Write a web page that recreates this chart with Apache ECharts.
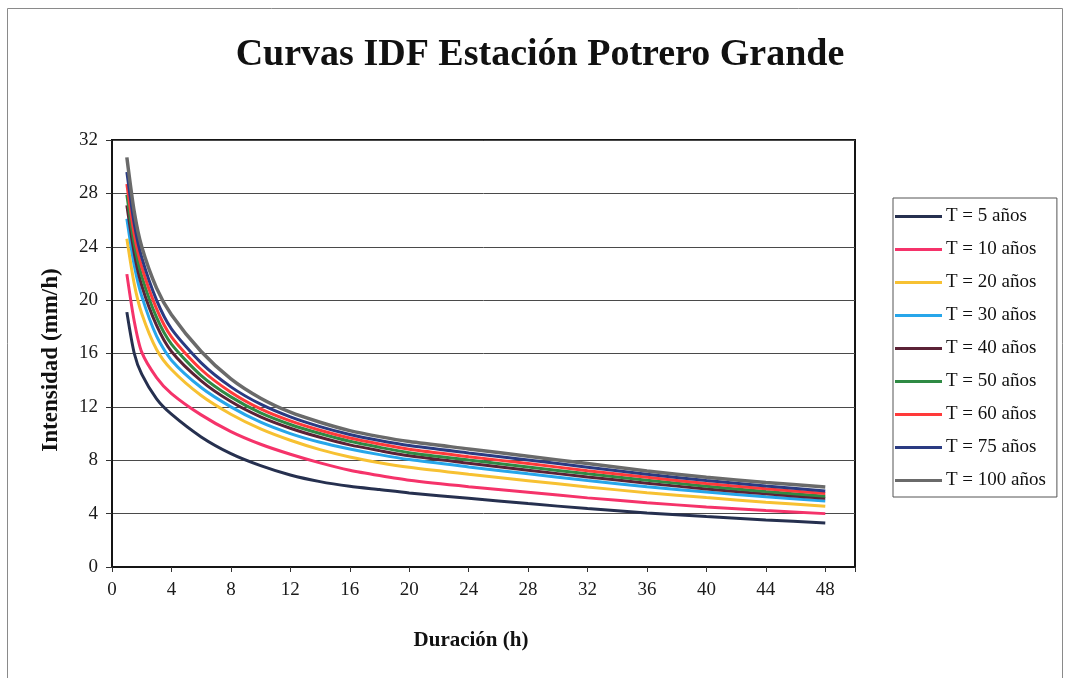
<!DOCTYPE html>
<html>
<head>
<meta charset="utf-8">
<title>Curvas IDF Estación Potrero Grande</title>
<script src="https://cdn.jsdelivr.net/npm/echarts@6/dist/echarts.min.js"></script>
<style>
  html, body { margin: 0; padding: 0; background: #ffffff; }
  #chart { width: 1066px; height: 678px; }
</style>
</head>
<body>
<div id="chart"></div>
<script>
// Duration of the storm (hours)
const durations = [1, 1.5, 2, 3, 4, 6, 8, 10, 12, 14, 16, 18, 20, 24, 28, 32, 36, 40, 44, 48];

// Rainfall intensity (mm/h) for each return period
const t5   = [19.1, 16.0, 14.45, 12.6, 11.45, 9.75, 8.5, 7.6, 6.9, 6.4, 6.05, 5.8, 5.55, 5.15, 4.75, 4.38, 4.05, 3.78, 3.53, 3.3];
const t10  = [21.95, 18.4, 16.1, 14.2, 13.0, 11.4, 10.15, 9.2, 8.45, 7.8, 7.25, 6.85, 6.5, 6.02, 5.6, 5.18, 4.82, 4.5, 4.23, 4.0];
const t20  = [24.6, 21.2, 19.0, 16.3, 14.8, 12.85, 11.45, 10.35, 9.5, 8.8, 8.25, 7.82, 7.47, 6.95, 6.47, 6.0, 5.57, 5.2, 4.86, 4.55];
const t30  = [26.1, 22.6, 20.3, 17.3, 15.5, 13.45, 12.0, 10.85, 10.0, 9.35, 8.85, 8.42, 8.05, 7.5, 6.98, 6.48, 6.02, 5.62, 5.27, 4.95];
const t40  = [27.1, 23.5, 21.1, 18.1, 16.15, 13.95, 12.4, 11.25, 10.4, 9.72, 9.15, 8.72, 8.33, 7.78, 7.25, 6.75, 6.28, 5.85, 5.48, 5.15];
const t50  = [27.9, 24.2, 21.8, 18.7, 16.7, 14.35, 12.75, 11.55, 10.68, 10.0, 9.42, 8.97, 8.57, 8.02, 7.5, 6.98, 6.5, 6.05, 5.66, 5.3];
const t60  = [28.7, 24.9, 22.5, 19.35, 17.25, 14.8, 13.1, 11.85, 10.95, 10.25, 9.67, 9.22, 8.82, 8.27, 7.75, 7.22, 6.72, 6.26, 5.86, 5.5];
const t75  = [29.6, 25.7, 23.2, 20.0, 17.85, 15.3, 13.5, 12.2, 11.25, 10.52, 9.93, 9.48, 9.1, 8.55, 8.02, 7.48, 6.95, 6.48, 6.07, 5.7];
const t100 = [30.7, 26.6, 24.0, 20.9, 18.9, 16.15, 14.1, 12.65, 11.6, 10.85, 10.22, 9.77, 9.4, 8.85, 8.3, 7.75, 7.2, 6.72, 6.33, 6.0];

const seriesNames = ['T = 5 años', 'T = 10 años', 'T = 20 años', 'T = 30 años', 'T = 40 años',
                     'T = 50 años', 'T = 60 años', 'T = 75 años', 'T = 100 años'];
const seriesValues = [t5, t10, t20, t30, t40, t50, t60, t75, t100];
const seriesColors = ['#26304f', '#f5336a', '#f7c132', '#27a6ea', '#5b2236',
                      '#2f8a44', '#ff3a3a', '#2a3b82', '#6a6a6a'];

// x-axis labels every 4 h (axis runs to 50, last label 48)
const xTicks = [0, 4, 8, 12, 16, 20, 24, 28, 32, 36, 40, 44, 48];

const serif = '"Liberation Serif", "Times New Roman", serif';

const chart = echarts.init(document.getElementById('chart'), null, { renderer: 'canvas' });

const series = seriesNames.map((name, i) => ({
  name: name,
  type: 'line',
  data: durations.map((d, k) => [d, seriesValues[i][k]]),
  symbol: 'none',
  smooth: 0.25,
  lineStyle: { color: seriesColors[i], width: i === 8 ? 3.5 : 3 },
  itemStyle: { color: seriesColors[i] },
  z: 2 + i
}));

chart.setOption({
  backgroundColor: '#ffffff',
  animation: false,
  graphic: [
    { type: 'rect', shape: { x: 7.5, y: 8.5, width: 1055, height: 700 },
      style: { fill: 'none', stroke: '#8a8a8a', lineWidth: 1 }, silent: true },
    { type: 'text', x: 540, y: 55,
      style: { text: 'Curvas IDF Estación Potrero Grande', font: 'bold 38px ' + serif,
               fill: '#111', textAlign: 'center', textVerticalAlign: 'middle' } },
    { type: 'text', x: 471, y: 641,
      style: { text: 'Duración (h)', font: 'bold 21px ' + serif,
               fill: '#111', textAlign: 'center', textVerticalAlign: 'middle' } },
    { type: 'text', x: 51, y: 360, rotation: Math.PI / 2,
      style: { text: 'Intensidad (mm/h)', font: 'bold 23px ' + serif,
               fill: '#111', textAlign: 'center', textVerticalAlign: 'middle' } }
  ],
  grid: {
    left: 112, top: 140, right: 211, bottom: 111,
    show: true, borderColor: '#151515', borderWidth: 2, backgroundColor: '#ffffff'
  },
  legend: {
    orient: 'vertical',
    left: 893, top: 198,
    padding: [9, 11, 7, 2],
    icon: 'rect',
    itemWidth: 47, itemHeight: 3, itemGap: 14,
    borderColor: '#555', borderWidth: 1,
    backgroundColor: '#ffffff',
    data: seriesNames,
    textStyle: { fontFamily: serif, fontSize: 19, color: '#111', padding: [0, 0, 0, -1] }
  },
  xAxis: {
    type: 'value', min: 0, max: 50, interval: 4,
    axisLine: { show: true, lineStyle: { color: '#151515', width: 2 } },
    axisTick: { show: true, length: 5, lineStyle: { color: '#333' } },
    splitLine: { show: false },
    axisLabel: {
      margin: 14, fontFamily: serif, fontSize: 19, color: '#1a1a1a',
      formatter: v => (xTicks.indexOf(v) >= 0 ? String(v) : '')
    }
  },
  yAxis: {
    type: 'value', min: 0, max: 32, interval: 4,
    axisLine: { show: true, lineStyle: { color: '#151515', width: 2 } },
    axisTick: { show: true, length: 6, lineStyle: { color: '#333' } },
    splitLine: { show: true, lineStyle: { color: '#4a4a4a', width: 1 } },
    axisLabel: { margin: 14, fontFamily: serif, fontSize: 19, color: '#1a1a1a' }
  },
  series: series
});
</script>
</body>
</html>
